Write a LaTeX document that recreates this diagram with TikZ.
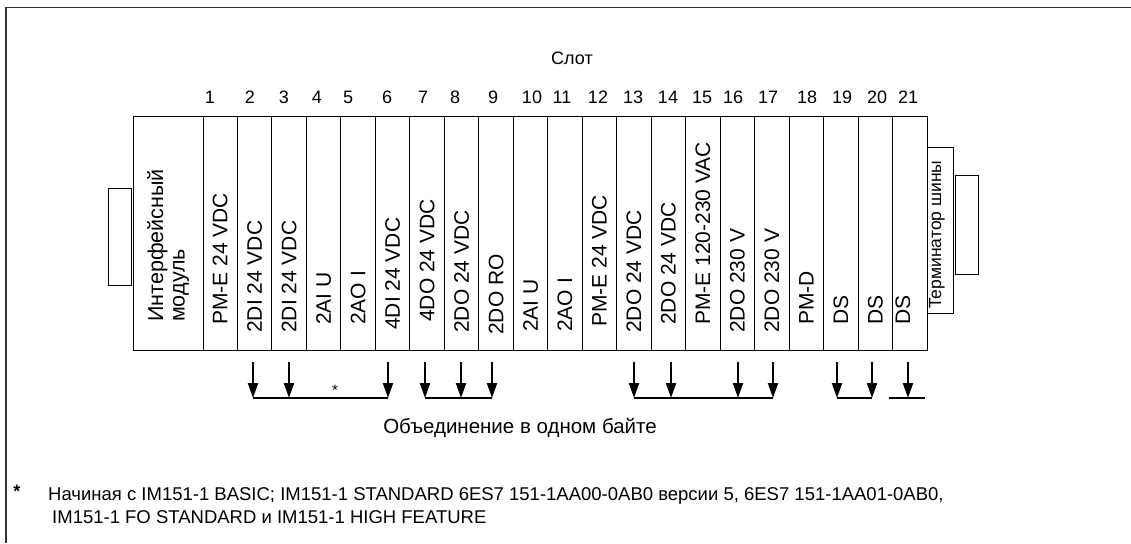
\documentclass[tikz,border=0pt]{standalone}
\usepackage{fontspec}
\setmainfont{Liberation Sans}
\usetikzlibrary{arrows.meta}
\tikzset{
  frame/.style={draw=black!80, line width=1.4pt},
  rack/.style={draw=black, line width=1pt},
  lbl/.style={font=\fontsize{21}{21}\selectfont, rotate=90, anchor=west, inner sep=0pt},
  num/.style={font=\fontsize{18}{18}\selectfont, inner sep=0pt},
  grp/.style={line width=2pt, -{Triangle[length=15pt,width=10pt]}},
  bar/.style={line width=2.4pt},
  note/.style={font=\fontsize{18.5}{18.5}\selectfont, inner sep=0pt, anchor=base west}
}
\begin{document}
\begin{tikzpicture}[x=1pt,y=-1pt]
\useasboundingbox (0,0) rectangle (1131,543);
% outer frame (only top and left visible)
\draw[frame] (1131,7.5) -- (6,7.5) -- (6,543);
% rack
\draw[rack] (133,116) rectangle (927,350);
\foreach \i in {0,...,20} \draw[rack] ({203+34.476*\i},116) -- ({203+34.476*\i},350);
% connectors and terminator
\draw[rack] (108,188) rectangle (131,285);
\draw[rack] (927,147) rectangle (953,313);
\draw[rack] (955,175) rectangle (978,274);
\node[font=\fontsize{17.5}{17.5}\selectfont, rotate=90, anchor=west, inner sep=0pt] (term) at (937,309) {Терминатор шины};
% interface module
\node[lbl, align=left, font=\fontsize{21.5}{21.5}\selectfont] (im) at (168,322) {Интерфейсный\\модуль};
% slot title and numbers
\node[num] (slot) at (572,58) {Слот};
\foreach \n/\x in {1/210,2/250,3/284,4/317,5/348,6/387,7/423,8/455,9/493,10/532,11/562,12/598,13/633,14/668,15/702,16/733,17/768,18/807,19/842,20/877,21/908}
  \node[num] (n\n) at (\x,97) {\n};
% module labels
\foreach \n/\t/\b in {1/PM-E 24 VDC/325, 2/2DI 24 VDC/333, 3/2DI 24 VDC/333, 4/2AI U/325, 5/2AO I/325, 6/4DI 24 VDC/330, 7/4DO 24 VDC/322, 8/2DO 24 VDC/333, 9/2DO RO/335, 10/2AI U/332, 11/2AO I/332, 12/PM-E 24 VDC/327, 13/2DO 24 VDC/333, 14/2DO 24 VDC/325, 15/PM-E 120-230 VAC/325, 16/2DO 230 V/333, 17/2DO 230 V/333, 18/PM-D/325, 19/DS/325, 20/DS/325}
  \node[lbl] (m\n) at ({203+34.476*(\n-0.5)},\b) {\t};
\node[lbl] (m21) at (903,325) {DS};
% grouping arrows
\foreach \i/\x in {2/253,3/289,6/388,7/425,8/461,9/492,13/634,14/671,16/738,17/773,19/837,20/872,21/908} {
  \coordinate (a\i) at (\x,362);
  \coordinate (b\i) at (\x,398);
  \draw[grp] (a\i) -- (b\i);
}
\coordinate (e21l) at (889,398);
\coordinate (e21r) at (925,398);
\draw[bar] (b2) -- (b6);
\draw[bar] (b7) -- (b9);
\draw[bar] (b13) -- (b17);
\draw[bar] (b19) -- (b20);
\draw[bar] (e21l) -- (e21r);
\node[font=\fontsize{15}{15}\selectfont, inner sep=0pt] (star) at (335,390) {*};
\node[font=\fontsize{20.5}{20.5}\selectfont, inner sep=0pt, anchor=base] (union) at (520,433) {Объединение в одном байте};
% footnote
\node[font=\fontsize{18}{18}\selectfont\bfseries, inner sep=0pt] (fstar) at (17,491) {*};
\node[note] (f1) at (48,500) {Начиная с IM151-1 BASIC; IM151-1 STANDARD 6ES7 151-1AA00-0AB0 версии 5, 6ES7 151-1AA01-0AB0,};
\node[note] (f2) at (52,523) {IM151-1 FO STANDARD и IM151-1 HIGH FEATURE};
\end{tikzpicture}
\end{document}
